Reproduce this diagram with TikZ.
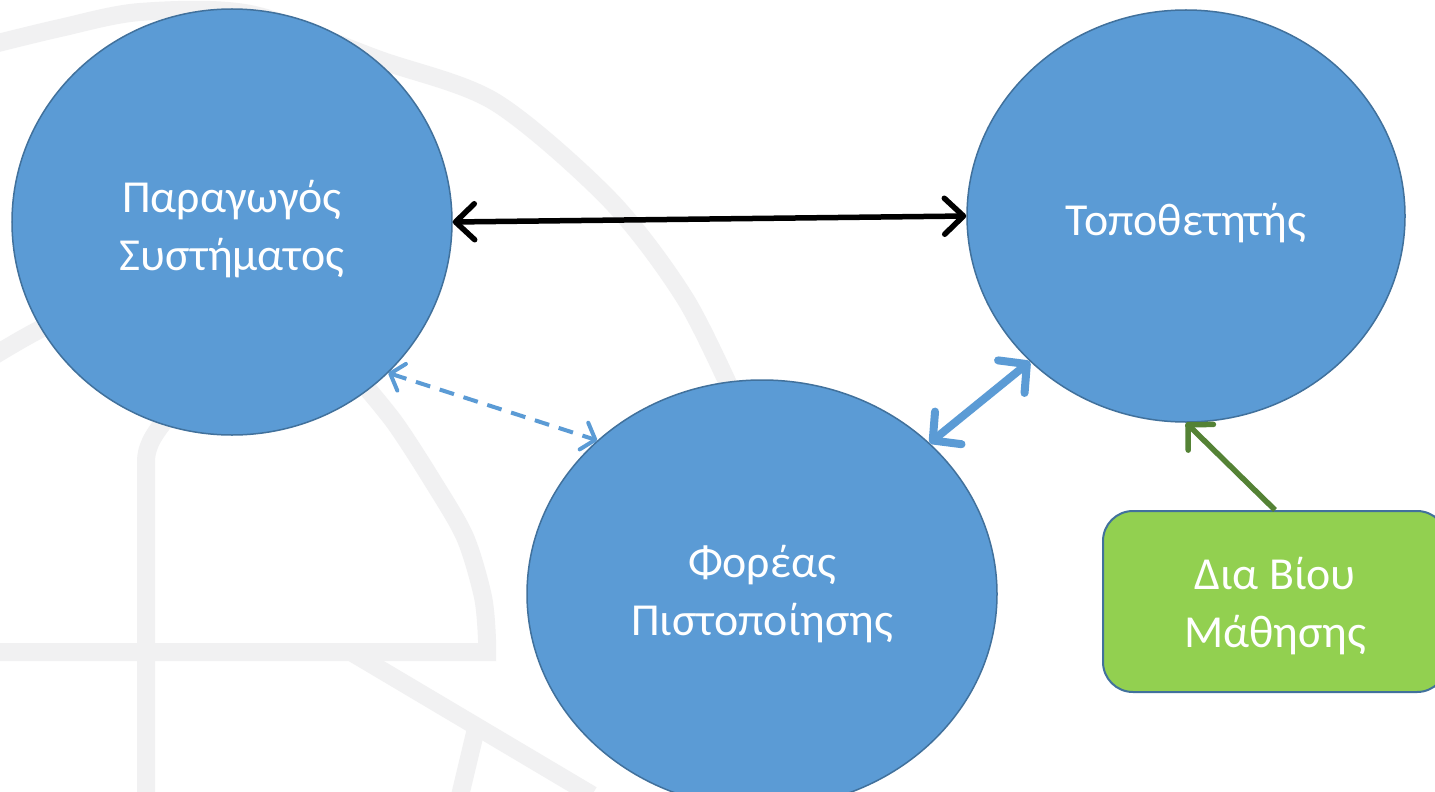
\documentclass[tikz,border=0pt]{standalone}
\usepackage{fontspec}
\setmainfont{Carlito}
\usetikzlibrary{shapes.geometric,arrows.meta}
\definecolor{cfill}{HTML}{5B9BD5}
\definecolor{cline}{HTML}{41719C}
\definecolor{gfill}{HTML}{92D050}
\definecolor{garrow}{HTML}{548235}
\definecolor{bggray}{HTML}{F1F1F2}
\newcommand{\mystrut}[1]{\rule{0pt}{#1}}
\tikzset{
  circ/.style={ellipse, fill=cfill, draw=cline, line width=1.5bp, inner sep=0pt,
    text=white, align=center, font=\fontsize{46}{58}\selectfont},
  gbox/.style={rectangle, rounded corners=30bp, fill=gfill, draw=cline, line width=2bp,
    inner sep=0pt, text=white, align=center, font=\fontsize{46}{58}\selectfont},
  bgband/.style={draw=bggray, line width=18bp},
  blk/.style={draw=black, line width=5.5bp,
    {Straight Barb[length=19bp,width=36bp,round]}-{Straight Barb[length=19bp,width=36bp,round]}},
  dsh/.style={draw=cfill, line width=4bp, dash pattern=on 15bp off 10bp,
    {Straight Barb[length=12bp,width=28bp,round]}-{Straight Barb[length=12bp,width=28bp,round]}},
  thk/.style={draw=cfill, line width=8bp,
    {Straight Barb[length=20bp,width=42bp,round]}-{Straight Barb[length=20bp,width=42bp,round]}},
  grn/.style={draw=garrow, line width=5.5bp, -{Straight Barb[length=18bp,width=36bp,round]}},
}
\begin{document}
\begin{tikzpicture}[x=1bp,y=-1bp]
\useasboundingbox (0,0) rectangle (1435,791);
\clip (0,0) rectangle (1435,791);
\fill[white] (0,0) rectangle (1435,791);
% background watermark bands
\draw[bgband] plot[smooth] coordinates {(-10,45) (60,28) (140,12) (250,14) (380,60) (495,102) (610,200) (686,300) (740,410)};
\draw[bgband, line join=miter] (-10,652) -- (487,652) -- plot[smooth] coordinates {(487,640) (483,597) (465,537) (432,480) (395,423) (360,380)};
\draw[bgband] (146,800) -- (146,462) .. controls (146,445) and (155,432) .. (172,412);
\draw[bgband] (-10,358) .. controls (20,340) and (40,328) .. (70,315);
\draw[bgband] (351,652) -- (592,795);
\draw[bgband] (475,733) -- (459,800);
% nodes
\node[circ, minimum width=440bp, minimum height=426bp] (L) at (232,222) {\mystrut{47bp}Παραγωγός\\Συστήματος};
\node[circ, minimum width=438bp, minimum height=412bp] (R) at (1186,216) {\mystrut{47bp}Τοποθετητής};
\node[circ, minimum width=470bp, minimum height=428bp] (B) at (762,594) {Φορέας\\Πιστοποίησης};
\node[gbox, minimum width=344bp, minimum height=181bp] (G) at (1275,601.5) {\mystrut{42bp}Δια Βίου\\Μάθησης};
% connectors
\draw[blk] (L.east) -- (R.west);
\draw[dsh] (L.-44) -- (B.137);
\draw[thk] (B.42) -- (R.-137);
\draw[grn] (G.north) -- (R.south);
\end{tikzpicture}
\end{document}
